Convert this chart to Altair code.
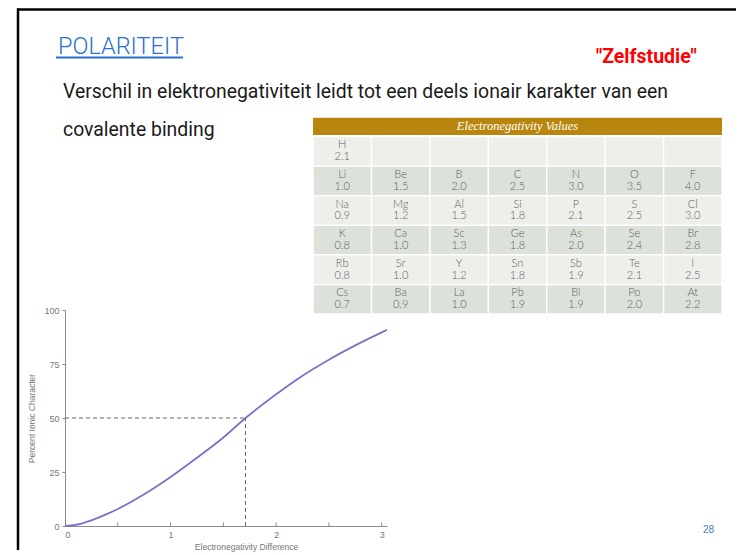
import altair as alt
import pandas as pd

# ---------------- data ----------------
# Percent ionic character curve
en_diff = [0.0, 0.1, 0.25, 0.4, 0.5, 0.75, 1.0, 1.25, 1.5, 1.71, 2.0, 2.25, 2.5, 2.75, 3.05]
ionic_pct = [0.0, 0.5, 2.6, 5.6, 7.9, 14.7, 22.7, 31.6, 41.0, 50.0, 61.0, 69.6, 77.0, 83.6, 90.8]
cross_x = [1.71]
cross_y = [50.0]
x_tick_values = [0.5, 1.0, 1.5, 2.0, 2.5, 3.0]

# Electronegativity table
row_symbols = [
    ["H", "", "", "", "", "", ""],
    ["Li", "Be", "B", "C", "N", "O", "F"],
    ["Na", "Mg", "Al", "Si", "P", "S", "Cl"],
    ["K", "Ca", "Sc", "Ge", "As", "Se", "Br"],
    ["Rb", "Sr", "Y", "Sn", "Sb", "Te", "I"],
    ["Cs", "Ba", "La", "Pb", "Bi", "Po", "At"],
]
row_values = [
    ["2.1", "", "", "", "", "", ""],
    ["1.0", "1.5", "2.0", "2.5", "3.0", "3.5", "4.0"],
    ["0.9", "1.2", "1.5", "1.8", "2.1", "2.5", "3.0"],
    ["0.8", "1.0", "1.3", "1.8", "2.0", "2.4", "2.8"],
    ["0.8", "1.0", "1.2", "1.8", "1.9", "2.1", "2.5"],
    ["0.7", "0.9", "1.0", "1.9", "1.9", "2.0", "2.2"],
]

title_text = "POLARITEIT"
tag_text = "\"Zelfstudie\""
body_line1 = "Verschil in elektronegativiteit leidt tot een deels ionair karakter van een"
body_line2 = "covalente binding"
table_title = "Electronegativity Values"
page_number = "28"

# ---------------- styling ----------------
SANS_NARROW = "Roboto, Liberation Sans, sans-serif"
AX_FONT = "Liberation Sans, Arial, sans-serif"
CELL_FONT = "Lato, Noto Sans, sans-serif"
AX_COLOR = "#8a8a8a"
LBL_COLOR = "#777777"

curve_df = pd.DataFrame({"d": en_diff, "p": ionic_pct})
cross_df = pd.DataFrame({"x": cross_x, "y": cross_y, "x0": [0.0], "y0": [0.0]})
ticks_df = pd.DataFrame({"t": x_tick_values})

xs = alt.Scale(domain=[0, 3.05], nice=False, zero=False)
ys = alt.Scale(domain=[0, 100], nice=False)

curve = alt.Chart(curve_df).mark_line(
    color="#7a72c6", strokeWidth=1.8, interpolate="monotone"
).encode(
    x=alt.X("d:Q", scale=xs, axis=alt.Axis(
        values=[0, 1, 2, 3], format="d", ticks=False, grid=False, domainColor=AX_COLOR,
        labelFont=AX_FONT, labelFontSize=9, labelColor=LBL_COLOR, labelPadding=4,
        title="Electronegativity Difference", titleFont=AX_FONT, titleFontSize=8.5,
        titleFontWeight="normal", titleColor=LBL_COLOR, titlePadding=3, titleX=181)),
    y=alt.Y("p:Q", scale=ys, axis=alt.Axis(
        values=[0, 25, 50, 75, 100], format="d", tickSize=3, tickColor=AX_COLOR, grid=False,
        domainColor=AX_COLOR, labelFont=AX_FONT, labelFontSize=9, labelColor=LBL_COLOR,
        labelPadding=3, title="Percent Ionic Character", titleFont=AX_FONT,
        titleFontSize=8.5, titleFontWeight="normal", titleColor=LBL_COLOR, titlePadding=7)),
)

dash_h = alt.Chart(cross_df).mark_rule(color="#6a6a6a", strokeDash=[4, 3], strokeWidth=1).encode(
    x=alt.X("x0:Q", scale=xs), x2="x:Q", y=alt.Y("y:Q", scale=ys)
)
dash_v = alt.Chart(cross_df).mark_rule(color="#6a6a6a", strokeDash=[4, 3], strokeWidth=1).encode(
    x=alt.X("x:Q", scale=xs), y=alt.Y("y0:Q", scale=ys), y2="y:Q"
)
xticks = alt.Chart(ticks_df).mark_rule(color=AX_COLOR, strokeWidth=1).encode(
    x=alt.X("t:Q", scale=xs), y=alt.value(216), y2=alt.value(212.5)
)

# ---------------- slide decorations (plot origin at page (65, 310)) ----------------
one = pd.DataFrame({"a": [0]})

def txt(text, x, y, **kw):
    return alt.Chart(one).mark_text(text=text, align="left", baseline="alphabetic", **kw).encode(
        x=alt.value(x), y=alt.value(y))

border_top = alt.Chart(one).mark_rule(color="#000000", strokeWidth=2.5).encode(
    x=alt.value(-48), x2=alt.value(680), y=alt.value(-300.5))
border_left = alt.Chart(one).mark_rule(color="#000000", strokeWidth=2.5).encode(
    x=alt.value(-47), y=alt.value(-301.5), y2=alt.value(240))
underline = alt.Chart(one).mark_rule(color="#2d6fce", strokeWidth=2).encode(
    x=alt.value(-9), x2=alt.value(118), y=alt.value(-252.5))

title_mark = txt(title_text, -7, -256, font=SANS_NARROW, fontSize=23.5, fontWeight=300,
                 color="#2d6fce")
tag_mark = txt(tag_text, 531, -247, font=SANS_NARROW, fontSize=19.5, fontWeight="bold",
               color="#ff0000")
line1 = txt(body_line1, -2, -212, font=SANS_NARROW, fontSize=19.4, color="#1a1a1a")
line2 = txt(body_line2, -2, -174, font=SANS_NARROW, fontSize=19.4, color="#1a1a1a")
pnum = alt.Chart(one).mark_text(text=page_number, align="center", baseline="middle",
                                font="Liberation Sans, Arial, sans-serif", fontSize=10,
                                color="#4a78c8").encode(x=alt.value(643.5), y=alt.value(220))

graph = alt.layer(curve, dash_h, dash_v, xticks, border_top, border_left, underline,
                  title_mark, tag_mark, line1, line2, pnum)

# ---------------- table ----------------
cells = []
for r, (syms, vals) in enumerate(zip(row_symbols, row_values)):
    for c, (s, v) in enumerate(zip(syms, vals)):
        cells.append({
            "row": r, "col": c, "sym": s, "val": v,
            "shade": "light" if r % 2 == 0 else "dark",
            "x0": c + 0.013, "x1": c + 0.987, "y0": r + 0.025, "y1": r + 0.975,
            "xc": c + 0.5, "ys": r + 0.3, "yv": r + 0.7,
        })
cells_df = pd.DataFrame(cells)
header_df = pd.DataFrame({"x0": [0.0], "x1": [7.0], "y0": [-0.63], "y1": [-0.05],
                          "xc": [3.5], "yc": [-0.34], "t": [table_title]})

tx = alt.Scale(domain=[0, 7], range=[248, 657], nice=False, zero=False)
ty = alt.Scale(domain=[0, 6], range=[-173.5, 4], nice=False, zero=False)

cell_rects = alt.Chart(cells_df).mark_rect().encode(
    x=alt.X("x0:Q", scale=tx, axis=None), x2="x1:Q",
    y=alt.Y("y0:Q", scale=ty, axis=None), y2="y1:Q",
    color=alt.Color("shade:N", scale=alt.Scale(domain=["light", "dark"],
                                               range=["#eeefeb", "#dce2da"]), legend=None),
)
cell_sym = alt.Chart(cells_df).mark_text(
    font=CELL_FONT, fontSize=11, fontWeight=300, color="#5e5e5e", baseline="middle"
).encode(
    x=alt.X("xc:Q", scale=tx, axis=None), y=alt.Y("ys:Q", scale=ty, axis=None), text="sym:N"
)
cell_val = alt.Chart(cells_df).mark_text(
    font=CELL_FONT, fontSize=11, fontWeight=300, color="#5e5e5e", baseline="middle"
).encode(
    x=alt.X("xc:Q", scale=tx, axis=None), y=alt.Y("yv:Q", scale=ty, axis=None), text="val:N"
)
header_rect = alt.Chart(header_df).mark_rect(color="#b8860e").encode(
    x=alt.X("x0:Q", scale=tx, axis=None), x2="x1:Q",
    y=alt.Y("y0:Q", scale=ty, axis=None), y2="y1:Q",
)
header_text = alt.Chart(header_df).mark_text(
    font="Liberation Serif, DejaVu Serif, serif", fontStyle="italic", fontSize=12.5,
    color="#ffffff", baseline="middle"
).encode(
    x=alt.X("xc:Q", scale=tx, axis=None), y=alt.Y("yc:Q", scale=ty, axis=None), text="t:N"
)
table = alt.layer(cell_rects, header_rect, cell_sym, cell_val, header_text)

chart = alt.layer(graph, table).resolve_scale(
    x="independent", y="independent", color="independent"
).properties(
    width=322, height=216,
    autosize=alt.AutoSizeParams(type="none"),
    padding={"left": 57, "top": 302, "right": 349, "bottom": 29},
    background="#ffffff",
).configure_view(stroke=None)

chart.save("out.html", embed_options={"renderer": "svg", "actions": False})
